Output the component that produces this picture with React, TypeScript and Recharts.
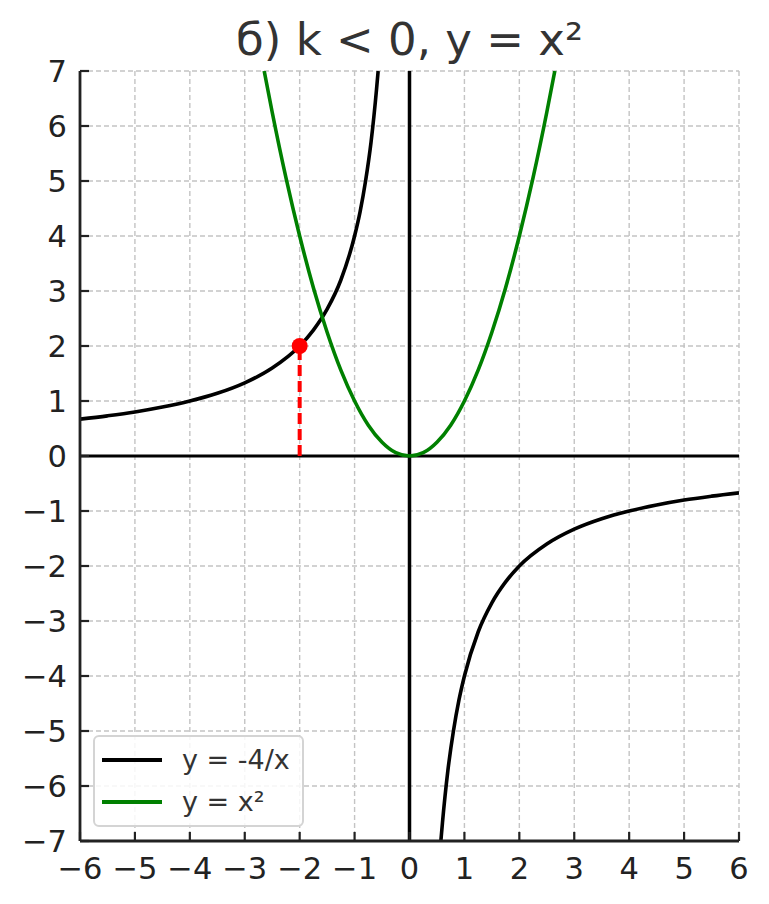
import React from 'react';
import {
  LineChart,
  Line,
  XAxis,
  YAxis,
  CartesianGrid,
  ReferenceLine,
  ReferenceDot,
} from 'recharts';

// y = -4/x, left branch
const hypLeftX = [-6, -5.5, -5, -4.5, -4, -3.5, -3, -2.5, -2, -1.75, -1.5, -1.25, -1, -0.9, -0.8, -0.7, -0.6, -0.571];
const hypLeftY = [0.67, 0.73, 0.8, 0.89, 1, 1.14, 1.33, 1.6, 2, 2.29, 2.67, 3.2, 4, 4.44, 5, 5.71, 6.67, 7];

// y = -4/x, right branch
const hypRightX = [0.571, 0.6, 0.7, 0.8, 0.9, 1, 1.25, 1.5, 1.75, 2, 2.5, 3, 3.5, 4, 4.5, 5, 5.5, 6];
const hypRightY = [-7, -6.67, -5.71, -5, -4.44, -4, -3.2, -2.67, -2.29, -2, -1.6, -1.33, -1.14, -1, -0.89, -0.8, -0.73, -0.67];

// y = x²
const parX = [-2.646, -2.5, -2.25, -2, -1.75, -1.5, -1.25, -1, -0.75, -0.5, -0.25, 0, 0.25, 0.5, 0.75, 1, 1.25, 1.5, 1.75, 2, 2.25, 2.5, 2.646];
const parY = [7, 6.25, 5.06, 4, 3.06, 2.25, 1.56, 1, 0.56, 0.25, 0.06, 0, 0.06, 0.25, 0.56, 1, 1.56, 2.25, 3.06, 4, 5.06, 6.25, 7];

// marked point
const pointX = -2;
const pointY = 2;

const xTicks = [-6, -5, -4, -3, -2, -1, 0, 1, 2, 3, 4, 5, 6];
const yTicks = [-7, -6, -5, -4, -3, -2, -1, 0, 1, 2, 3, 4, 5, 6, 7];

const title = 'б) k < 0, y = x²';
const legendItems = [
  { label: 'y = -4/x', color: '#000000' },
  { label: 'y = x²', color: '#008000' },
];

const zip = (xs: number[], ys: number[]) => xs.map((x, i) => ({ x, y: ys[i] }));

const hypLeft = zip(hypLeftX, hypLeftY);
const hypRight = zip(hypRightX, hypRightY);
const parabola = zip(parX, parY);

const FONT = '"DejaVu Sans", sans-serif';
const fmt = (v: number) => (v < 0 ? '\u2212' + Math.abs(v) : String(v));

export default function App() {
  return (
    <div style={{ position: 'absolute', left: 0, top: 0, width: 769, height: 904, fontFamily: FONT, background: '#fff' }}>
      <div
        style={{
          position: 'absolute',
          left: 80,
          width: 659,
          top: 17,
          textAlign: 'center',
          fontSize: 45,
          lineHeight: '45px',
          color: '#333',
        }}
      >
        {title}
      </div>
      <LineChart
        width={769}
        height={904}
        margin={{ top: 71, right: 30, left: 0, bottom: 0 }}
        style={{ fontFamily: FONT }}
      >
        <CartesianGrid stroke="#c4c4c4" strokeDasharray="5 3" strokeWidth={1.4} />
        <XAxis
          type="number"
          dataKey="x"
          domain={[-6, 6]}
          ticks={xTicks}
          allowDataOverflow
          height={63}
          tickSize={-9}
          tickMargin={25}
          tickFormatter={fmt}
          tick={{ fill: '#222', fontSize: 30.5 }}
          tickLine={{ stroke: '#222', strokeWidth: 2.2 }}
          axisLine={{ stroke: '#222', strokeWidth: 2.8 }}
          interval={0}
        />
        <YAxis
          type="number"
          dataKey="y"
          domain={[-7, 7]}
          ticks={yTicks}
          allowDataOverflow
          width={80}
          tickSize={-9}
          tickMargin={22}
          tickFormatter={fmt}
          tick={{ fill: '#222', fontSize: 30.5 }}
          tickLine={{ stroke: '#222', strokeWidth: 2.2 }}
          axisLine={{ stroke: '#222', strokeWidth: 2.8 }}
          interval={0}
        />
        <ReferenceLine x={0} stroke="#000" strokeWidth={3.5} />
        <ReferenceLine y={0} stroke="#000" strokeWidth={2.8} />
        <Line data={hypLeft} dataKey="y" type="monotone" stroke="#000" strokeWidth={3.6} dot={false} isAnimationActive={false} />
        <Line data={hypRight} dataKey="y" type="monotone" stroke="#000" strokeWidth={3.6} dot={false} isAnimationActive={false} />
        <Line data={parabola} dataKey="y" type="monotone" stroke="#008000" strokeWidth={3.6} dot={false} isAnimationActive={false} />
        <ReferenceLine
          segment={[{ x: pointX, y: 0 }, { x: pointX, y: pointY }]}
          stroke="#ff0000"
          strokeWidth={4}
          strokeDasharray="11 5"
        />
        <ReferenceDot x={pointX} y={pointY} r={8} fill="#ff0000" stroke="none" />
      </LineChart>
      <div
        style={{
          position: 'absolute',
          left: 93,
          top: 735,
          width: 207,
          height: 88,
          border: '2px solid #d4d4d4',
          borderRadius: 6,
          background: 'rgba(255,255,255,0.85)',
        }}
      >
        {legendItems.map((it, i) => (
          <div key={i} style={{ position: 'absolute', left: 7, top: 8 + i * 42, height: 30, display: 'flex', alignItems: 'center' }}>
            <div style={{ width: 60, height: 4.5, background: it.color }} />
            <span style={{ marginLeft: 20, fontSize: 27, color: '#333', lineHeight: '30px' }}>{it.label}</span>
          </div>
        ))}
      </div>
    </div>
  );
}
